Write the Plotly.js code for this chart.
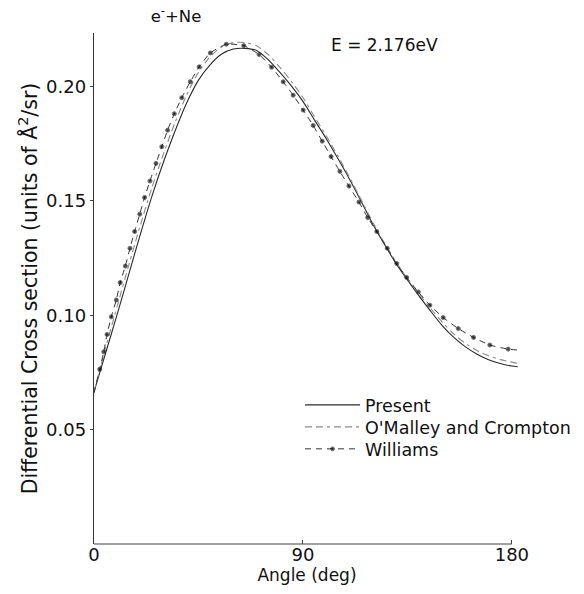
<!DOCTYPE html>
<html>
<head>
<meta charset="utf-8">
<script src="https://cdn.plot.ly/plotly-3.0.1.min.js"></script>
<style>html,body{margin:0;padding:0;background:#fff;}#chart{width:584px;height:594px;}</style>
</head>
<body>
<div id="chart"></div>
<script>
// Present (solid)
const presentAngle = [0,5,10,15,20,25,30,35,40,45,50,55,60,65,70,75,80,85,90,95,100,105,110,115,120,125,130,135,140,145,150,155,160,165,170,175,180,182.5];
const presentValue = [0.0665,0.0835,0.1005,0.1180,0.1355,0.1522,0.1672,0.1808,0.1930,0.2028,0.2095,0.2142,0.2164,0.2167,0.2158,0.2118,0.2063,0.2003,0.1935,0.1853,0.1773,0.1686,0.1596,0.1500,0.1400,0.1312,0.1228,0.1155,0.1085,0.1018,0.0955,0.0903,0.0862,0.0830,0.0806,0.0789,0.0778,0.0775];

// O'Malley and Crompton (dashed)
const omalleyAngle = [0,5,10,15,20,25,30,35,40,45,50,55,60,65,70,75,80,85,90,95,100,105,110,115,120,125,130,135,140,145,150,155,160,165,170,175,180,182.5];
const omalleyValue = [0.0665,0.0858,0.1040,0.1220,0.1395,0.1560,0.1708,0.1845,0.1965,0.2062,0.2130,0.2173,0.2192,0.2192,0.2178,0.2140,0.2085,0.2022,0.1952,0.1868,0.1785,0.1697,0.1605,0.1507,0.1408,0.1318,0.1235,0.1160,0.1093,0.1030,0.0970,0.0918,0.0877,0.0846,0.0823,0.0806,0.0795,0.0790];

// Williams (dash-dot with dots)
const williamsAngle = [0,2.45,4.2,5.6,7.45,9.6,11.3,13.5,15.5,17.5,19.7,21.8,24.1,26.7,29.2,31.7,34.6,37.8,41.5,45.3,50.1,57.0,64.5,71.1,76.5,81.5,85.8,90.1,94.4,98.3,102.1,105.9,109.8,114.1,117.9,121.8,126.3,130.4,134.7,139.7,144.7,150.4,156.9,163.5,170.5,178.4,182.7];
const williamsValue = [0.0660,0.0764,0.0840,0.0916,0.0993,0.1067,0.1143,0.1215,0.1293,0.1366,0.1442,0.1515,0.1587,0.1664,0.1737,0.1809,0.1881,0.1951,0.2021,0.2086,0.2147,0.2185,0.2179,0.2140,0.2084,0.2021,0.1962,0.1897,0.1830,0.1761,0.1694,0.1629,0.1565,0.1495,0.1427,0.1366,0.1293,0.1226,0.1165,0.1102,0.1044,0.0990,0.0942,0.0903,0.0870,0.0852,0.0848];

const xTickVals = [0, 90, 180];
const xTickText = ['0', '90', '180'];
const yTickVals = [0.05, 0.10, 0.15, 0.20];
const yTickText = ['0.05', '0.10', '0.15', '0.20'];

const FONT = 'DejaVu Sans, sans-serif';

const williamsMarkerSize = williamsAngle.map((a, i) => (i === 0 || i === williamsAngle.length - 1) ? 0 : 4);

const traces = [
  {
    x: presentAngle, y: presentValue, name: 'Present', mode: 'lines', legend: 'legend',
    line: {color: '#2a2a2a', width: 1.1, shape: 'spline', smoothing: 0.8}
  },
  {
    x: omalleyAngle, y: omalleyValue, name: "O'Malley and Crompton", mode: 'lines', legend: 'legend2',
    line: {color: '#8a8a8a', width: 1.1, dash: '7px,4px,7px,4px,3px,4px', shape: 'spline', smoothing: 0.8}
  },
  {
    x: williamsAngle, y: williamsValue, name: 'Williams', mode: 'lines+markers', legend: 'legend3',
    line: {color: '#333', width: 1, dash: '6px,5px', shape: 'spline', smoothing: 0.5},
    marker: {color: '#000', size: williamsMarkerSize}
  }
];

const legendBase = {
  x: 0.4836, xanchor: 'left', yanchor: 'middle', bgcolor: 'rgba(0,0,0,0)', borderwidth: 0,
  font: {family: FONT, size: 17.5, color: '#111'}, itemwidth: 55
};

const layout = {
  width: 584, height: 594,
  margin: {l: 94, r: 64, t: 33, b: 50, autoexpand: false},
  paper_bgcolor: '#fff', plot_bgcolor: '#fff',
  font: {family: FONT, color: '#111', size: 17},
  showlegend: true,
  title: {
    text: 'e<sup>-</sup>+Ne', font: {family: FONT, size: 16.5, color: '#111'},
    xref: 'paper', x: 0.1925, xanchor: 'center', yref: 'container', y: 0.973, yanchor: 'middle'
  },
  xaxis: {
    range: [0, 183.5], showgrid: false, zeroline: false, showline: false,
    tickvals: xTickVals, ticktext: xTickText, ticks: 'inside', ticklen: 4, tickwidth: 1, tickcolor: '#444',
    ticklabelstandoff: -2,
    tickfont: {family: FONT, size: 18, color: '#111'},
    title: {text: 'Angle (deg)', font: {family: FONT, size: 17, color: '#111'}, standoff: 0}
  },
  yaxis: {
    range: [0, 0.2234], showgrid: false, zeroline: false, showline: true, linecolor: '#333', linewidth: 1.2,
    tickvals: yTickVals, ticktext: yTickText, ticks: 'outside', ticklen: 3, tickwidth: 1, tickcolor: '#444',
    tickfont: {family: FONT, size: 18, color: '#111'},
    title: {text: 'Differential Cross section (units of Å<sup>2</sup>/sr)', font: {family: FONT, size: 20.5, color: '#111'}, standoff: 3}
  },
  shapes: [
    {type: 'line', xref: 'x', yref: 'paper', x0: 0, x1: 180, y0: 0, y1: 0, line: {color: '#444', width: 1.2}}
  ],
  annotations: [
    {text: 'E = 2.176eV', xref: 'paper', yref: 'paper', x: 0.681, y: 0.9765, xanchor: 'center', yanchor: 'middle',
     showarrow: false, font: {family: FONT, size: 17, color: '#111'}}
  ],
  legend: Object.assign({}, legendBase, {y: 0.272}),
  legend2: Object.assign({}, legendBase, {y: 0.229}),
  legend3: Object.assign({}, legendBase, {y: 0.186})
};

Plotly.newPlot('chart', traces, layout, {displayModeBar: false, staticPlot: true});
</script>
</body>
</html>
